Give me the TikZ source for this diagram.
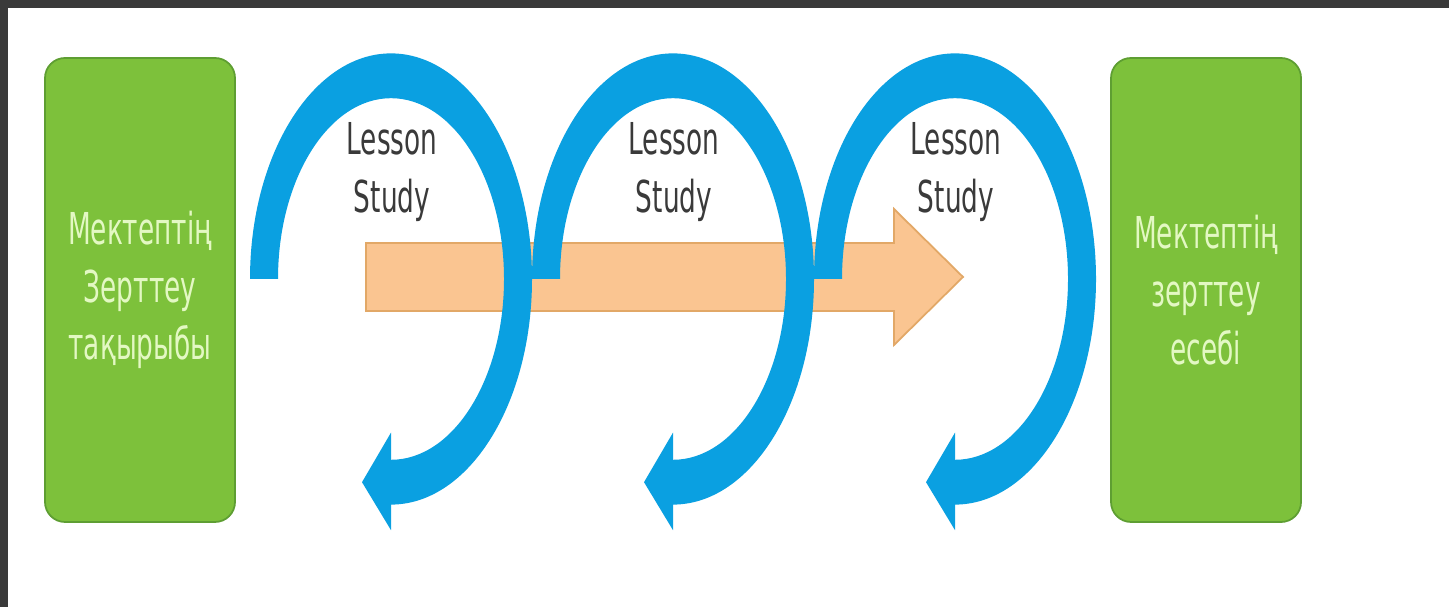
\documentclass[tikz,border=0pt]{standalone}
\usepackage{fontspec}
\setmainfont{DejaVu Sans}[FakeStretch=0.6]
\usepackage{xcolor}
\usepackage{tikz}
\definecolor{boxgreen}{HTML}{7DC13B}
\definecolor{boxedge}{HTML}{5E9E32}
\definecolor{boxtext}{HTML}{E3F8C3}
\definecolor{loopblue}{HTML}{0AA0E1}
\definecolor{peach}{HTML}{FAC591}
\definecolor{peachedge}{HTML}{E2A867}
\definecolor{framegray}{HTML}{3A3A3A}
\definecolor{labelgray}{HTML}{3A3A3A}

\begin{document}
\begin{tikzpicture}[x=0.1mm,y=0.1mm]
\tikzstyle{every node}+=[inner sep=0pt]
\tikzstyle{greenbox}=[draw=boxedge, line width=0.5pt, fill=boxgreen, rounded corners=2mm, minimum width=19mm, minimum height=46.4mm, align=center, text=boxtext, font=\fontsize{12.5}{16.4}\selectfont]
\tikzstyle{lesson}=[align=center, text=labelgray, font=\fontsize{12.5}{16.4}\selectfont]
\useasboundingbox (0,0) rectangle (1449,-607);
\fill [white] (0,0) rectangle (1449,-607);
\fill [framegray] (0,0) rectangle (1449,-8);
\fill [framegray] (0,0) rectangle (8,-607);
% end boxes
\node [greenbox] (topic) at (140,-290) {Мектептің\\Зерттеу\\тақырыбы};
\node [greenbox] (report) at (1206,-290) {Мектептің\\зерттеу\\есебі};
% big arrow
\filldraw [fill=peach, draw=peachedge, line width=0.5pt] (366,-243) -- (894,-243) -- (894,-209) -- (963,-277) -- (894,-345) -- (894,-311) -- (366,-311) -- cycle;
% lesson study loops
\foreach \cx in {391,673,955} {
  \fill [loopblue, shift={(\cx,-279)}, yscale=1.6] (-141,0) arc [start angle=180, end angle=-90, radius=141] -- (0,-157) -- (-29,-127) -- (0,-96) -- (0,-113) arc [start angle=-90, end angle=180, radius=113] -- cycle;
  \node [lesson, anchor=north] (ls\cx) at (\cx+1,-122) {Lesson\\Study};
}
\end{tikzpicture}
\end{document}
